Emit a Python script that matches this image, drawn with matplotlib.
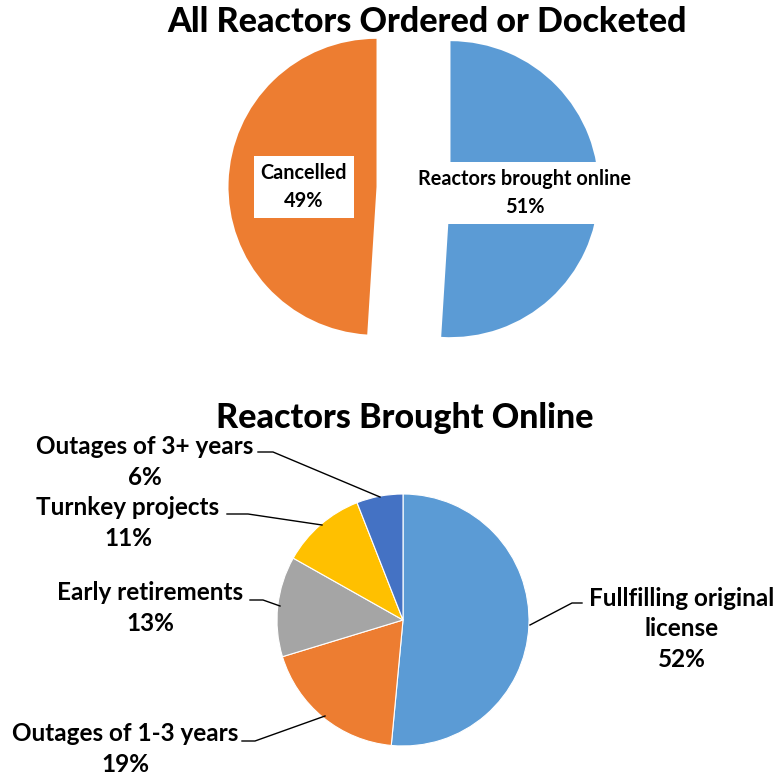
import matplotlib.pyplot as plt

plt.rcParams['font.family'] = ['Lato', 'DejaVu Sans']
plt.rcParams['font.weight'] = 'bold'

# top chart
top_labels = ['Reactors brought online', 'Cancelled']
top_values = [51, 49]
top_colors = ['#5B9BD5', '#ED7D31']

# bottom chart
bot_labels = ['Fullfilling original\nlicense', 'Outages of 1-3 years', 'Early retirements',
              'Turnkey projects', 'Outages of 3+ years']
bot_values = [52, 19, 13, 11, 6]
bot_colors = ['#5B9BD5', '#ED7D31', '#A5A5A5', '#FFC000', '#4472C4']

W, H = 778, 776
fig = plt.figure(figsize=(W / 100, H / 100), dpi=100)
ax = fig.add_axes([0, 0, 1, 1])


def Y(py):
    return H - py


# --- All reactors ---
ax.text(427, Y(22), 'All Reactors Ordered or Docketed', ha='center', va='center',
        fontsize=24.5, fontweight='black')
ax.pie(top_values, colors=top_colors, startangle=90, counterclock=False,
       center=(413.5, Y(188)), radius=148, explode=[37, 37],
       wedgeprops=dict(linewidth=0), frame=True)
box = dict(facecolor='white', edgecolor='none', boxstyle='square,pad=0.35')
ax.text(304, Y(187), '%s\n%d%%' % (top_labels[1], top_values[1]), ha='center',
        va='center', fontsize=14.3, linespacing=1.5, bbox=box)
ax.text(525, Y(193), '%s\n%d%%' % (top_labels[0], top_values[0]), ha='center',
        va='center', fontsize=14.3, linespacing=1.5, bbox=box)

# --- Brought online ---
ax.text(405, Y(418), 'Reactors Brought Online', ha='center', va='center',
        fontsize=24.5, fontweight='black')
ax.pie(bot_values, colors=bot_colors, startangle=90, counterclock=False,
       center=(403, Y(620)), radius=126,
       wedgeprops=dict(edgecolor='white', linewidth=0.8), frame=True)

# label text position, leader line points
lab_pos = [(682, 629), (125, 749), (150, 608), (128, 523), (145, 462)]
leaders = [
    [(582, 603), (572, 603), (530, 625)],
    [(242, 741), (255, 741), (325, 716)],
    [(250, 600), (263, 600), (280, 606)],
    [(227, 514), (248, 514), (322, 525)],
    [(258, 452), (273, 452), (380, 497)],
]
for lab, val, (tx, ty), pts in zip(bot_labels, bot_values, lab_pos, leaders):
    ax.text(tx, Y(ty), '%s\n%d%%' % (lab, val), ha='center', va='center',
            fontsize=17.5, linespacing=1.42)
    ax.plot([p[0] for p in pts], [Y(p[1]) for p in pts], color='black', lw=1)

ax.set_xlim(0, W)
ax.set_ylim(0, H)
ax.axis('off')

fig.savefig('out.png', dpi=100)
